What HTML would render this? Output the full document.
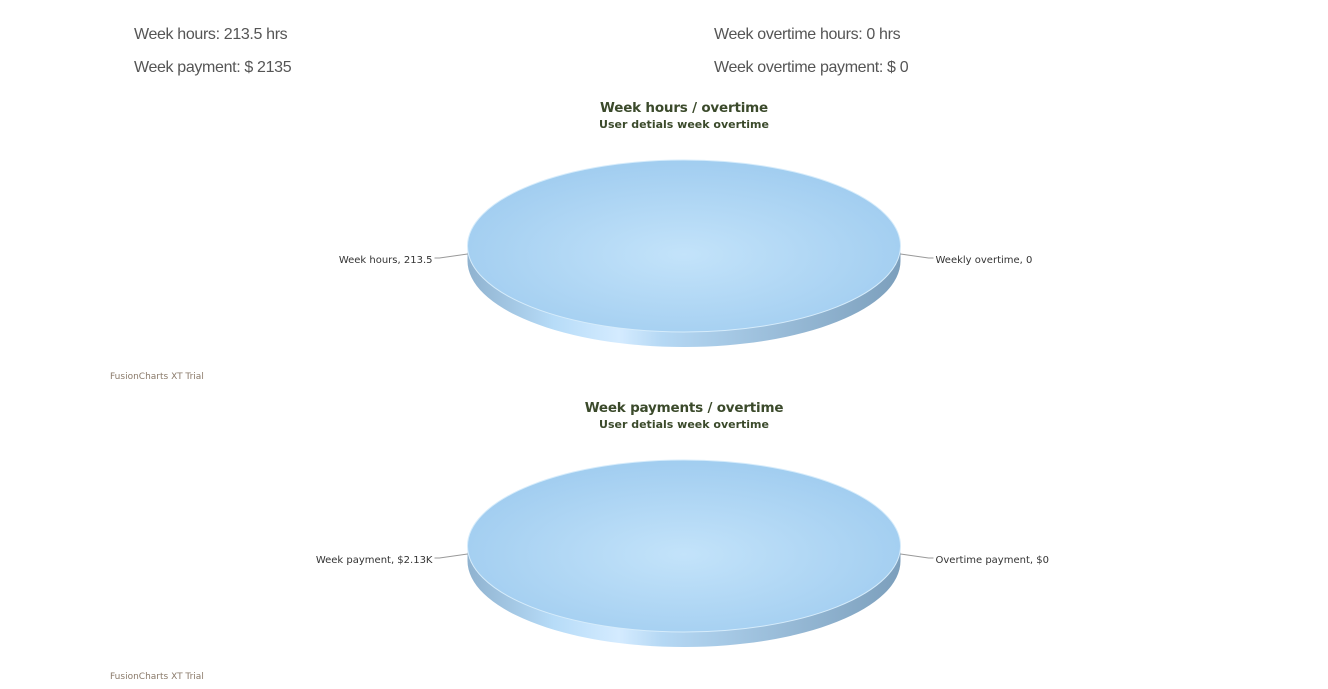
<!DOCTYPE html>
<html><head><meta charset="utf-8"><style>
body{margin:0;width:1328px;height:689px;background:#fff;overflow:hidden;font-family:"Liberation Sans",sans-serif;}
.stat{position:absolute;font-size:16px;color:#555;letter-spacing:-0.35px;}
</style></head><body>
<div class="stat" style="left:134px;top:26px">Week hours: 213.5 hrs</div>
<div class="stat" style="left:134px;top:59px">Week payment: $ 2135</div>
<div class="stat" style="left:714px;top:26px">Week overtime hours: 0 hrs</div>
<div class="stat" style="left:714px;top:59px">Week overtime payment: $ 0</div>
<svg id="svg" width="1328" height="689" style="position:absolute;left:0;top:0">
<defs>
<radialGradient id="top" cx="0.5" cy="0.55" r="0.6">
<stop offset="0" stop-color="#c3e3fa"/><stop offset="1" stop-color="#9ecbef"/></radialGradient>
<linearGradient id="side" x1="0" x2="1">
<stop offset="0" stop-color="#8fb2cf"/><stop offset="0.2" stop-color="#b7dcf8"/><stop offset="0.35" stop-color="#d4ebff"/><stop offset="0.45" stop-color="#b5d8f4"/><stop offset="1" stop-color="#7c9fbc"/></linearGradient>
</defs>
</svg>
<script>
const chartTitles = ["Week hours / overtime","Week payments / overtime"];
const sliceLabels1 = ["Week hours, 213.5","Weekly overtime, 0"];
const sliceValues1 = [213.5, 0];
const sliceLabels2 = ["Week payment, $2.13K","Overtime payment, $0"];
const sliceValues2 = [2135, 0];
const NS="http://www.w3.org/2000/svg";
const svg=document.getElementById('svg');
function mk(t,a,p){const e=document.createElementNS(NS,t);for(const k in a)e.setAttribute(k,a[k]);(p||svg).appendChild(e);return e;}
function drawPie(oy,title,labels,values,key){
  const g=mk('g',{});
  
  
  const cx=684,cy=oy+246,rx=216.5,ry=86,d=15;
  let t=mk('text',{x:cx,y:oy+112,'text-anchor':'middle','font-size':13.5,'font-weight':'bold',fill:'#3b4a2b','letter-spacing':'-0.2',"font-family":"DejaVu Sans, sans-serif"},g);t.textContent=title;
  
  
  t=mk('text',{x:cx,y:oy+128,'text-anchor':'middle','font-size':11,'font-weight':'bold',fill:'#3b4a2b',"font-family":"DejaVu Sans, sans-serif"},g);t.textContent='User detials week overtime';
  
  
  const total=values.reduce((a,b)=>a+b,0);
  const side=mk('path',{d:`M${cx-rx},${cy} A${rx},${ry} 0 0 0 ${cx+rx},${cy} L${cx+rx},${cy+d} A${rx},${ry} 0 0 1 ${cx-rx},${cy+d} Z`,fill:'url(#side)'},g);
  
  
  let a0=Math.PI;
  values.forEach((v,i)=>{
    const frac=total?v/total:0;
    const a1=a0+frac*2*Math.PI;
    let s;
    if(frac>=0.9999){s=mk('ellipse',{cx,cy,rx,ry,fill:'url(#top)',stroke:'#d6ecfb','stroke-width':1},g);}
    else if(frac>0){
      const x0=cx+rx*Math.cos(a0),y0=cy+ry*Math.sin(a0),x1=cx+rx*Math.cos(a1),y1=cy+ry*Math.sin(a1);
      s=mk('path',{d:`M${cx},${cy} L${x0},${y0} A${rx},${ry} 0 ${frac>0.5?1:0} 1 ${x1},${y1} Z`,fill:'url(#top)'},g);
    }
    if(s){}
    a0=a1;
  });
  const lx=[cx-rx,cx+rx];
  labels.forEach((lab,i)=>{
    const left=i===0;
    const x=lx[i];
    const ln=mk('polyline',{points:left?`${x},${cy+8} ${x-28},${cy+12} ${x-33},${cy+12}`:`${x},${cy+8} ${x+28},${cy+12} ${x+33},${cy+12}`,fill:'none',stroke:'#999','stroke-width':1},g);
    
    
    const tx=mk('text',{x:left?x-35:x+35,y:cy+17,'text-anchor':left?'end':'start','font-size':10,fill:'#333',"font-family":"DejaVu Sans, sans-serif"},g);
    tx.textContent=lab;
    
    
  });
  const tr=mk('text',{x:110,y:oy+379,'font-size':9,fill:'#8a7a6a',"font-family":"DejaVu Sans, sans-serif"},g);
  tr.textContent='FusionCharts XT Trial';
  
  
}
drawPie(0,chartTitles[0],sliceLabels1,sliceValues1,'hours');
drawPie(300,chartTitles[1],sliceLabels2,sliceValues2,'payments');
</script>
</body></html>
